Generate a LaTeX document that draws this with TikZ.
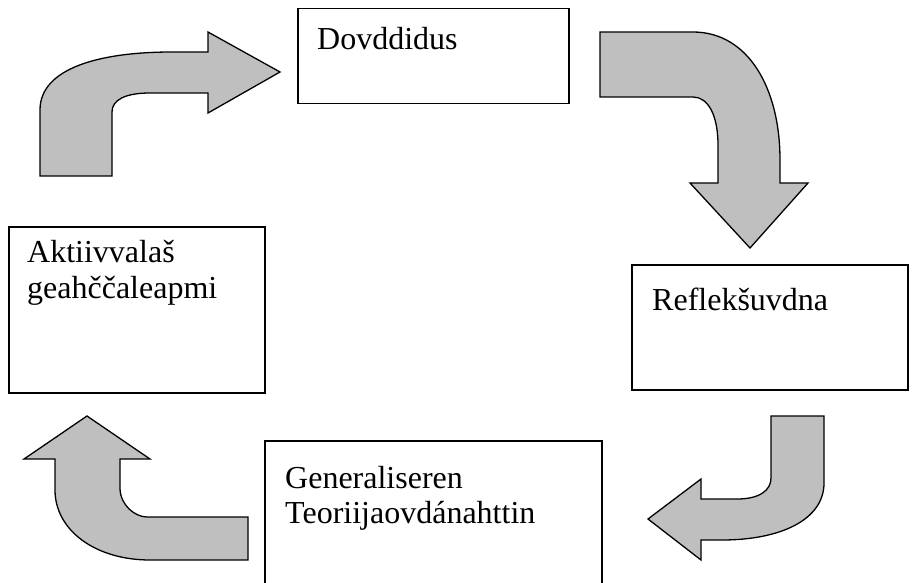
\documentclass[tikz,border=0pt]{standalone}
\usepackage{fontspec}
\setmainfont{Liberation Serif}

\newlength{\du}
\setlength{\du}{1pt}

\definecolor{arrowgray}{rgb}{0.750000, 0.750000, 0.750000}
\tikzset{
  textbox/.style={draw=black, line width=1.5\du, fill=white, inner sep=0pt, anchor=north west},
  boxtext/.style={anchor=base west, inner sep=0pt, font=\fontsize{32}{36}\selectfont},
  blockarrow/.style={draw=black, line width=1.3\du, fill=arrowgray, line join=miter},
}

\begin{document}
\begin{tikzpicture}
\pgftransformxscale{1.000000}
\pgftransformyscale{-1.000000}
\clip (0\du,0\du) rectangle (912\du,583\du);
% boxes
\node[textbox, minimum width=271\du, minimum height=95\du] (dovddidus) at (297\du,8\du) {};
\node[textbox, minimum width=256\du, minimum height=166\du] (aktiivvalas) at (8\du,226\du) {};
\node[textbox, minimum width=276\du, minimum height=125\du] (refleksuvdna) at (631\du,264\du) {};
\node[textbox, minimum width=337\du, minimum height=180\du] (generaliseren) at (264\du,440\du) {};
% setfont left to latex
\node[boxtext] (dovddidustxt) at (317\du,50\du) {Dovddidus};
\node[boxtext] (aktiivvalastxt) at (27\du,262\du) {Aktiivvalaš};
\node[boxtext] (geahccaleapmitxt) at (27\du,298\du) {geahččaleapmi};
\node[boxtext] (refleksuvdnatxt) at (652\du,310\du) {Reflekšuvdna};
\node[boxtext] (generaliserentxt) at (285\du,488\du) {Generaliseren};
\node[boxtext] (teoriijatxt) at (285\du,523\du) {Teoriijaovdánahttin};
% bent arrows
\draw[blockarrow] (40\du,176\du)--(40\du,110\du) .. controls (40\du,68\du) and (100\du,52\du) .. (172\du,52\du)--(208\du,52\du)--(208\du,32\du)--(280\du,72\du)--(208\du,113\du)--(208\du,93\du)--(150\du,93\du) .. controls (125\du,93\du) and (112\du,100\du) .. (112\du,112\du)--(112\du,176\du)--cycle;
\draw[blockarrow] (600\du,32\du)--(693\du,32\du) .. controls (748\du,32\du) and (780\du,88\du) .. (780\du,160\du)--(780\du,183\du)--(808\du,183\du)--(750\du,248\du)--(690\du,183\du)--(718\du,183\du)--(718\du,145\du) .. controls (718\du,115\du) and (708\du,97\du) .. (693\du,97\du)--(600\du,97\du)--cycle;
\draw[blockarrow] (771\du,416\du)--(824\du,416\du)--(824\du,483\du) .. controls (824\du,520\du) and (780\du,540\du) .. (722\du,540\du)--(701\du,540\du)--(701\du,560\du)--(648\du,519\du)--(701\du,479\du)--(701\du,499\du)--(737\du,499\du) .. controls (760\du,499\du) and (771\du,490\du) .. (771\du,478\du)--cycle;
\draw[blockarrow] (248\du,517\du)--(248\du,560\du)--(150\du,560\du) .. controls (95\du,560\du) and (55\du,530\du) .. (55\du,490\du)--(55\du,459\du)--(24\du,459\du)--(87\du,416\du)--(150\du,459\du)--(120\du,459\du)--(120\du,488\du) .. controls (120\du,505\du) and (135\du,517\du) .. (147\du,517\du)--cycle;
\end{tikzpicture}
\end{document}
